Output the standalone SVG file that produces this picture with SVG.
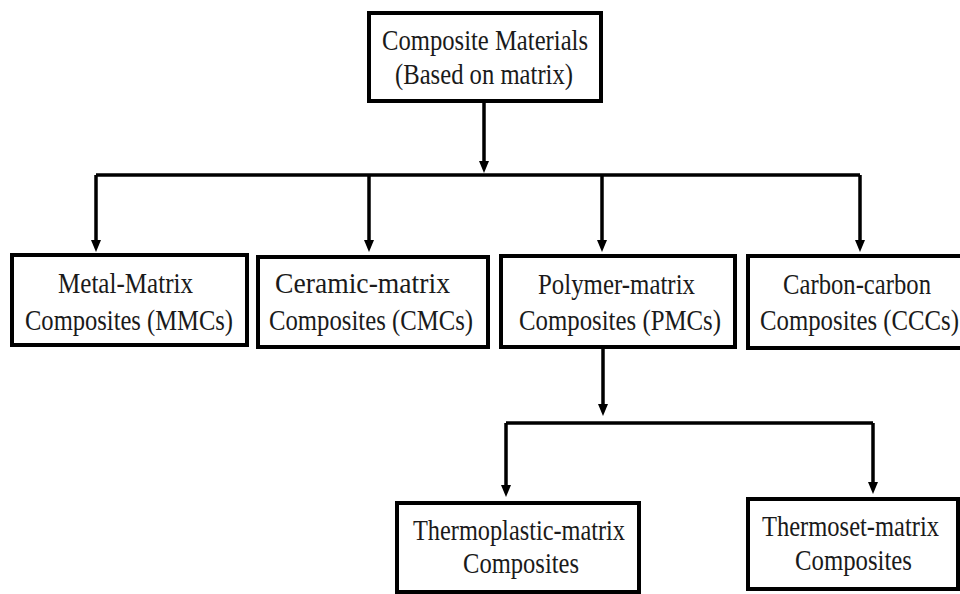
<svg xmlns="http://www.w3.org/2000/svg" width="960" height="594" viewBox="0 0 960 594">
<style>
.box{fill:#fff;stroke:#000;stroke-width:4}
.t{font-family:"Liberation Serif","Times New Roman",serif;font-size:29px;fill:#1a1a1a}
.c{fill:none;stroke:#000;stroke-width:3.5}
</style>
<defs>
<marker id="ah" markerUnits="userSpaceOnUse" viewBox="0 0 12 10" refX="6" refY="5" markerWidth="12" markerHeight="10" orient="auto">
<path d="M0,0 L12,5 L0,10 z" fill="#000"/>
</marker>
</defs>
<rect width="960" height="594" fill="#fff"/>
<g id="connectors">
<path class="c" d="M484,103 V167" marker-end="url(#ah)"/>
<path class="c" d="M96,175 H860"/>
<path class="c" d="M96,175 V246" marker-end="url(#ah)"/>
<path class="c" d="M369,175 V246" marker-end="url(#ah)"/>
<path class="c" d="M602,175 V246" marker-end="url(#ah)"/>
<path class="c" d="M860,175 V246" marker-end="url(#ah)"/>
<path class="c" d="M603,349 V410" marker-end="url(#ah)"/>
<path class="c" d="M506,423 H873"/>
<path class="c" d="M506,423 V491" marker-end="url(#ah)"/>
<path class="c" d="M873,423 V488" marker-end="url(#ah)"/>
</g>
<g id="root">
<rect class="box" x="369" y="13" width="232" height="88"/>
<text class="t" x="382" y="50" textLength="206" lengthAdjust="spacingAndGlyphs">Composite Materials</text>
<text class="t" x="395" y="84" textLength="178" lengthAdjust="spacingAndGlyphs">(Based on matrix)</text>
</g>
<g id="mmc">
<rect class="box" x="12" y="255" width="235" height="90"/>
<text class="t" x="58" y="293" textLength="135" lengthAdjust="spacingAndGlyphs">Metal-Matrix</text>
<text class="t" x="25" y="330" textLength="208" lengthAdjust="spacingAndGlyphs">Composites (MMCs)</text>
</g>
<g id="cmc">
<rect class="box" x="258" y="257" width="230" height="90"/>
<text class="t" x="275" y="293" textLength="175" lengthAdjust="spacingAndGlyphs">Ceramic-matrix</text>
<text class="t" x="269" y="330" textLength="204" lengthAdjust="spacingAndGlyphs">Composites (CMCs)</text>
</g>
<g id="pmc">
<rect class="box" x="501" y="256" width="234" height="91"/>
<text class="t" x="538" y="294" textLength="157" lengthAdjust="spacingAndGlyphs">Polymer-matrix</text>
<text class="t" x="519" y="330" textLength="202" lengthAdjust="spacingAndGlyphs">Composites (PMCs)</text>
</g>
<g id="ccc">
<rect class="box" x="748" y="256" width="215" height="92"/>
<text class="t" x="783" y="294" textLength="148" lengthAdjust="spacingAndGlyphs">Carbon-carbon</text>
<text class="t" x="760" y="330" textLength="199" lengthAdjust="spacingAndGlyphs">Composites (CCCs)</text>
</g>
<g id="thermoplastic">
<rect class="box" x="397" y="503" width="242" height="89"/>
<text class="t" x="413" y="540" textLength="212" lengthAdjust="spacingAndGlyphs">Thermoplastic-matrix</text>
<text class="t" x="463" y="573" textLength="116" lengthAdjust="spacingAndGlyphs">Composites</text>
</g>
<g id="thermoset">
<rect class="box" x="748" y="499" width="210" height="90"/>
<text class="t" x="762" y="536" textLength="177" lengthAdjust="spacingAndGlyphs">Thermoset-matrix</text>
<text class="t" x="795" y="570" textLength="117" lengthAdjust="spacingAndGlyphs">Composites</text>
</g>
</svg>
